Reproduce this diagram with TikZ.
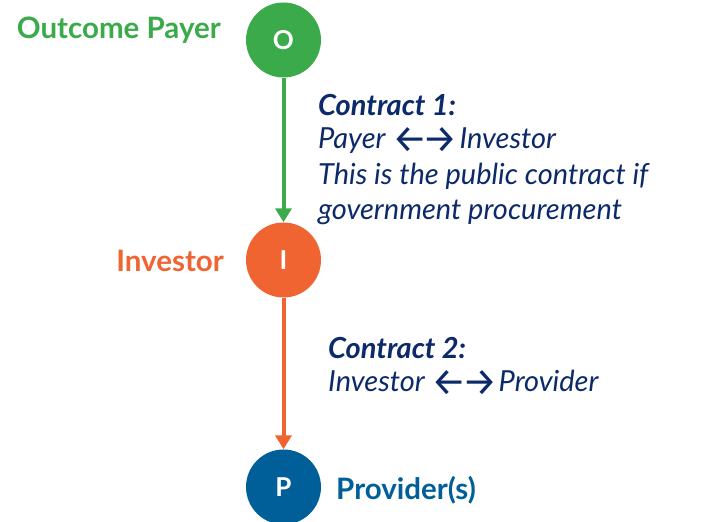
\documentclass[tikz,border=0pt]{standalone}
\usepackage{fontspec}
\usepackage{graphicx}
\setmainfont{Lato}
\newfontfamily\arrowfont{Fira Sans}
\usetikzlibrary{arrows.meta}
\definecolor{cgreen}{HTML}{3BAA4A}
\definecolor{corange}{HTML}{EF6431}
\definecolor{cblue}{HTML}{005F99}
\definecolor{cnavy}{HTML}{0C2A69}
\newcommand{\lrarr}{\raisebox{-0.12em}{\scalebox{1.35}{\arrowfont\upshape\mdseries ←\kern-0.12em→}}}
\tikzset{
  circ/.style={circle, minimum size=75pt, inner sep=0pt, text=white, font=\fontsize{26}{30}\selectfont\bfseries},
  lbl/.style={inner sep=0pt, font=\fontsize{29.5}{34}\selectfont\bfseries},
  ctext/.style={inner sep=0pt, anchor=base west, text=cnavy, font=\fontsize{29}{34}\selectfont\itshape},
  conn/.style={line width=4pt, -{Triangle[width=16pt,length=14pt]}}
}
\begin{document}
\begin{tikzpicture}[x=1pt,y=1pt]
\useasboundingbox (0,0) rectangle (718,522);
\node[circ, fill=cgreen] (O) at (283.5,482) {O};
\node[circ, fill=corange] (I) at (283.5,262) {I};
\node[circ, fill=cblue] (P) at (283.5,35) {P};
\node[lbl, text=cgreen, anchor=east] (lo) at (221,492) {Outcome Payer};
\node[lbl, text=corange, anchor=east] (li) at (224,261) {Investor};
\node[lbl, text=cblue, anchor=west] (lp) at (336,32) {Provider(s)};
\draw[conn, cgreen] (O.south) -- (I.north);
\draw[conn, corange] (I.south) -- (P.north);
\node[ctext] (c1a) at (318,406) {\bfseries Contract 1:};
\node[ctext] (c1b) at (318,373) {Payer \lrarr\kern0.05em Investor};
\node[ctext] (c1c) at (318,337) {This is the public contract if};
\node[ctext] (c1d) at (318,302) {government procurement};
\node[ctext] (c2a) at (328,163) {\bfseries Contract 2:};
\node[ctext] (c2b) at (328,130) {Investor \lrarr\kern0.05em Provider};
\end{tikzpicture}
\end{document}
